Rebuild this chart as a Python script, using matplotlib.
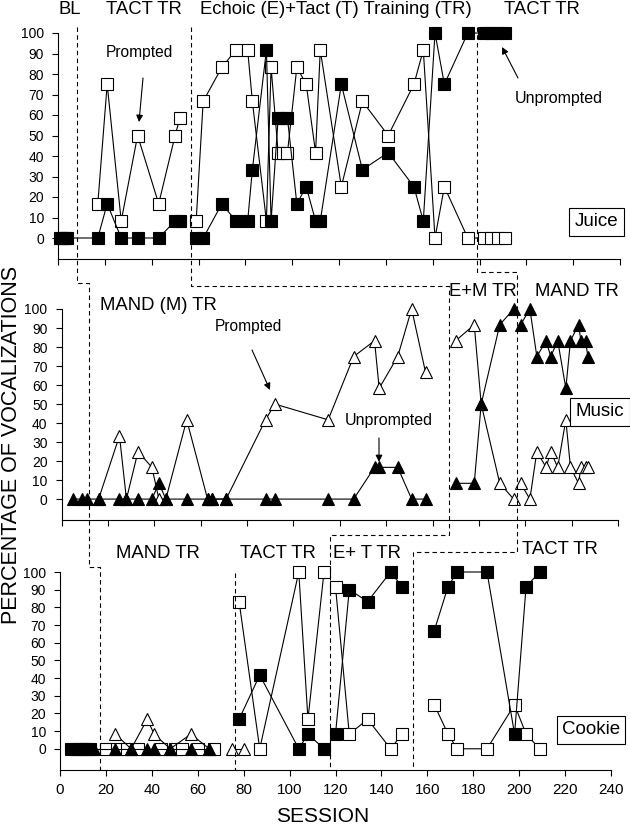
import matplotlib
matplotlib.use("Agg")
import matplotlib.pyplot as plt
from matplotlib.lines import Line2D
from matplotlib.patches import FancyArrowPatch

plt.rcParams['font.family'] = ['Liberation Sans', 'DejaVu Sans']

# ---------------- data: sessions and percentages ----------------
# Juice (tacts: squares)
juice_bl_sessions = [1, 2, 3, 4]
juice_bl_unprompted = [0, 0, 0, 0]
juice_tact_sessions = [17, 21, 27, 34, 43, 50, 52]
juice_tact_unprompted = [0, 16.7, 0, 0, 0, 8.3, 8.3]
juice_tact_prompted = [16.7, 75, 8.3, 50, 16.7, 50, 58.3]
juice_et_sessions = [59, 62, 70, 76, 81, 83, 89, 91, 94, 96, 98, 102, 106, 110, 112,
                     121, 130, 141, 152, 156, 161, 165, 175]
juice_et_unprompted = [0, 0, 16.7, 8.3, 8.3, 33.3, 91.7, 8.3, 58.3, 58.3, 58.3, 16.7, 25, 8.3, 8.3,
                       75, 33.3, 41.7, 25, 8.3, 100, 75, 100]
juice_et_prompted = [8.3, 66.7, 83.3, 91.7, 91.7, 66.7, 8.3, 83.3, 41.7, 41.7, 41.7, 83.3, 75, 41.7, 91.7,
                     25, 66.7, 50, 75, 91.7, 0, 25, 0]
juice_tact2_sessions = [182, 185, 188, 191]
juice_tact2_unprompted = [100, 100, 100, 100]
juice_tact2_prompted = [0, 0, 0, 0]

# Music (mands: triangles)
music_bl_sessions = [5, 9, 11]
music_bl_unprompted = [0, 0, 0]
music_mand_sessions = [16, 25, 28, 33, 39, 42, 45, 54, 63, 65, 71, 88, 92, 115, 126, 135, 137, 145, 151, 157]
music_mand_unprompted = [0, 0, 0, 0, 0, 8.3, 0, 0, 0, 0, 0, 0, 0, 0, 0, 16.7, 16.7, 16.7, 0, 0]
music_mand_prompted = [0, 33.3, 0, 25, 16.7, 0, 0, 41.7, 0, 0, 0, 41.7, 50, 41.7, 75, 83.3, 58.3, 75, 100, 66.7]
music_em_sessions = [170, 178, 181, 189, 195]
music_em_unprompted = [8.3, 8.3, 50, 91.7, 100]
music_em_prompted = [83.3, 91.7, 50, 8.3, 0]
music_mand2_sessions = [198, 202, 205, 209, 211, 214, 217.5, 219.5, 223, 224, 226, 227]
music_mand2_unprompted = [91.7, 100, 75, 83.3, 75, 83.3, 58.3, 83.3, 91.7, 83.3, 83.3, 75]
music_mand2_prompted = [8.3, 0, 25, 16.7, 25, 16.7, 41.7, 16.7, 8.3, 16.7, 16.7, 16.7]

# Cookie
cookie_bl_tact_sessions = [5, 7, 9, 11, 13]
cookie_bl_tact_unprompted = [0, 0, 0, 0, 0]
cookie_bl_mand_sessions = [15]
cookie_bl_mand_unprompted = [0]
cookie_mand_sessions = [24, 31, 38, 41, 48, 57, 65]
cookie_mand_unprompted = [0, 0, 0, 0, 0, 0, 0]
cookie_mand_prompted = [8.3, 0, 16.7, 8.3, 0, 8.3, 0]
cookie_probe_sessions = [20, 25, 29, 34, 44, 50, 53, 60, 67]
cookie_probe_prompted = [0, 0, 0, 0, 0, 0, 0, 0, 0]
cookie_mand_probe_sessions = [75, 80]
cookie_mand_probe_prompted = [0, 0]
cookie_tact_sessions = [78, 87, 104, 108, 115]
cookie_tact_unprompted = [16.7, 41.7, 0, 8.3, 0]
cookie_tact_prompted = [83.3, 0, 100, 16.7, 100]
cookie_et_sessions = [120, 126, 134, 144, 149]
cookie_et_unprompted = [8.3, 90, 83.3, 100, 91.7]
cookie_et_prompted = [91.7, 8.3, 16.7, 0, 8.3]
cookie_tact2_sessions = [163, 169, 173, 186, 198, 203, 209]
cookie_tact2_unprompted = [66.7, 91.7, 100, 100, 8.3, 91.7, 100]
cookie_tact2_prompted = [25, 8.3, 0, 0, 25, 8.3, 0]

# ---------------- figure ----------------
W, H = 630, 825
fig = plt.figure(figsize=(W / 100, H / 100), dpi=100)


def fx(px):
    return px / W


def fy(py):
    return 1 - py / H


def make_axes(left, right, top, bottom, ymin, labels):
    ax = fig.add_axes([fx(left), fy(bottom), (right - left) / W, (bottom - top) / H])
    ax.set_xlim(0, 240)
    ax.set_ylim(ymin, 100)
    ax.set_xticks(range(0, 241, 20))
    ax.set_yticks(range(0, 101, 10))
    for s in ['top', 'right']:
        ax.spines[s].set_visible(False)
    for s in ['left', 'bottom']:
        ax.spines[s].set_linewidth(0.8)
    ax.spines['left'].set_bounds(ymin, 100)
    ax.tick_params(direction='out', length=4, width=0.8, color='black')
    ax.tick_params(axis='y', labelsize=10, pad=6)
    ax.tick_params(axis='x', labelsize=11, pad=5, labelbottom=labels)
    ax.patch.set_alpha(0)
    return ax


ax1 = make_axes(58, 620, 33, 258.5, -10, False)
ax2 = make_axes(61.5, 618, 309, 520, -11, False)
ax3 = make_axes(60, 611, 572, 770, -12, True)


def plot_series(ax, x, y, marker, filled):
    ax.plot(x, y, color='black', lw=0.8, marker=marker,
            ms=8 if marker == 's' else 9,
            mfc='black' if filled else 'white', mec='black', mew=0.8,
            clip_on=False, zorder=4 if filled else 3)


# Juice
plot_series(ax1, juice_tact_sessions, juice_tact_prompted, 's', False)
plot_series(ax1, juice_et_sessions + juice_tact2_sessions,
            juice_et_prompted + juice_tact2_prompted, 's', False)
plot_series(ax1, juice_bl_sessions + juice_tact_sessions,
            juice_bl_unprompted + juice_tact_unprompted, 's', True)
plot_series(ax1, juice_et_sessions + juice_tact2_sessions,
            juice_et_unprompted + juice_tact2_unprompted, 's', True)

# Music
plot_series(ax2, music_mand_sessions, music_mand_prompted, '^', False)
plot_series(ax2, music_em_sessions, music_em_prompted, '^', False)
plot_series(ax2, music_mand2_sessions, music_mand2_prompted, '^', False)
plot_series(ax2, music_bl_sessions + music_mand_sessions,
            music_bl_unprompted + music_mand_unprompted, '^', True)
plot_series(ax2, music_em_sessions, music_em_unprompted, '^', True)
plot_series(ax2, music_mand2_sessions, music_mand2_unprompted, '^', True)

# Cookie
plot_series(ax3, cookie_probe_sessions, cookie_probe_prompted, 's', False)
plot_series(ax3, cookie_mand_sessions, cookie_mand_prompted, '^', False)
plot_series(ax3, cookie_mand_probe_sessions, cookie_mand_probe_prompted, '^', False)
plot_series(ax3, cookie_tact_sessions, cookie_tact_prompted, 's', False)
plot_series(ax3, cookie_et_sessions, cookie_et_prompted, 's', False)
plot_series(ax3, cookie_tact2_sessions, cookie_tact2_prompted, 's', False)
plot_series(ax3, cookie_bl_tact_sessions, cookie_bl_tact_unprompted, 's', True)
plot_series(ax3, cookie_bl_mand_sessions + cookie_mand_sessions,
            cookie_bl_mand_unprompted + cookie_mand_unprompted, '^', True)
plot_series(ax3, cookie_tact_sessions, cookie_tact_unprompted, 's', True)
plot_series(ax3, cookie_et_sessions, cookie_et_unprompted, 's', True)
plot_series(ax3, cookie_tact2_sessions, cookie_tact2_unprompted, 's', True)


# ---------------- phase change lines ----------------
def sx(ax, s):
    p = ax.get_position()
    return p.x0 + s / 240 * p.width


def phase_line(pts):
    xs = [sx(ax, s) for ax, s, _ in pts]
    ys = [fy(y) for _, _, y in pts]
    fig.add_artist(Line2D(xs, ys, transform=fig.transFigure, color='black',
                          lw=0.8, ls=(0, (4, 3))))


phase_line([(ax1, 8, 27), (ax1, 8, 283), (ax2, 11.9, 283), (ax2, 11.9, 567),
            (ax3, 17.4, 567), (ax3, 17.4, 770)])
phase_line([(ax1, 57, 27), (ax1, 57, 286), (ax2, 167.1, 286), (ax2, 167.1, 535),
            (ax3, 117.6, 535), (ax3, 117.6, 770)])
phase_line([(ax1, 179.1, 27), (ax1, 179.1, 272), (ax2, 196.4, 272), (ax2, 196.4, 552),
            (ax3, 153.7, 552), (ax3, 153.7, 770)])
phase_line([(ax3, 76.2, 573), (ax3, 76.2, 770)])

# ---------------- texts ----------------
phase_fs = 13.3


def ftext(x, y, s, size=phase_fs, **kw):
    fig.text(fx(x), fy(y), s, fontsize=size, ha='center', va='center', **kw)


ftext(70, 10, 'BL')
ftext(144, 10, 'TACT TR')
ftext(336, 10, 'Echoic (E)+Tact (T) Training (TR)')
ftext(542, 10, 'TACT TR')
ftext(158, 305, 'MAND (M) TR')
ftext(483, 291, 'E+M TR')
ftext(577, 291, 'MAND TR')
ftext(158, 553, 'MAND TR')
ftext(278, 553, 'TACT TR')
ftext(367, 553, 'E+ T TR')
ftext(560, 550, 'TACT TR')

ftext(139, 53, 'Prompted', size=11.2)
ftext(559, 98, 'Unprompted', size=11.5)
ftext(248, 327, 'Prompted', size=11.2)
ftext(389, 421, 'Unprompted', size=11.5)

box = dict(boxstyle='square,pad=0.28', fc='white', ec='black', lw=0.8)
ftext(596.5, 222, 'Juice', size=13.5, bbox=box)
ftext(600, 412, 'Music', size=13.5, bbox=box)
ftext(591, 730, 'Cookie', size=13.5, bbox=box)

ftext(12, 445, 'PERCENTAGE OF VOCALIZATIONS', size=15.5, rotation=90)
ftext(323, 817, 'SESSION', size=15)


def arrow(x0, y0, x1, y1):
    fig.add_artist(FancyArrowPatch((fx(x0), fy(y0)), (fx(x1), fy(y1)),
                                   transform=fig.transFigure, arrowstyle='-|>',
                                   mutation_scale=10, lw=0.8, color='black',
                                   shrinkA=0, shrinkB=0))


arrow(143, 78, 139, 122)
arrow(518, 78, 502, 47)
arrow(252, 350, 270, 390)
arrow(379, 438, 379, 462)

fig.savefig('out.png', dpi=100)
